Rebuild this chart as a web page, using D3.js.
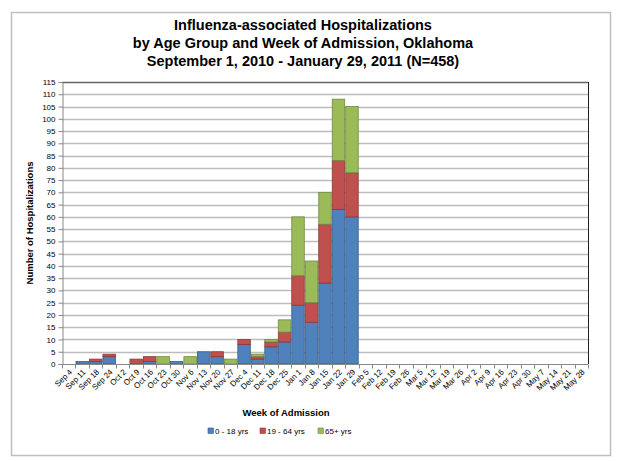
<!DOCTYPE html>
<html>
<head>
<meta charset="utf-8">
<script src="https://cdn.jsdelivr.net/npm/d3@7"></script>
<style>
  body { margin: 0; background: #fff; }
  text { font-family: "Liberation Sans", Arial, sans-serif; }
</style>
</head>
<body>
<div id="container"></div>
<script>
let weeks = ["Sep 4", "Sep 11", "Sep 18", "Sep 24", "Oct 2", "Oct 9", "Oct 16", "Oct 23", "Oct 30",
    "Nov 6", "Nov 13", "Nov 20", "Nov 27", "Dec 4", "Dec 11", "Dec 18", "Dec 25",
    "Jan 1", "Jan 8", "Jan 15", "Jan 22", "Jan 29", "Feb 5", "Feb 12", "Feb 19", "Feb 26",
    "Mar 5", "Mar 12", "Mar 19", "Mar 26", "Apr 2", "Apr 9", "Apr 16", "Apr 23", "Apr 30",
    "May 7", "May 14", "May 21", "May 28"];
let ages0to18 = [0, 1, 1, 3, 0, 0, 1, 0, 1, 0, 5, 3, 0, 8, 2, 7, 9, 24, 17, 33, 63, 60];
let ages19to64 = [0, 0, 1, 1, 0, 2, 2, 0, 0, 0, 0, 2, 0, 2, 1, 2, 4, 12, 8, 24, 20, 18];
let ages65plus = [0, 0, 0, 0, 0, 0, 0, 3, 0, 3, 0, 0, 2, 0, 1, 1, 5, 24, 17, 13, 25, 27];
let seriesNames = ["0 - 18 yrs", "19 - 64 yrs", "65+ yrs"];
let yTicks = d3.range(0, 116, 5);

let colors = ["#4F81BD", "#C0504D", "#9BBB59"];
let strokes = ["#385D8A", "#8C3836", "#71893F"];

let width = 623, height = 461;
let svg = d3.select("#container")
    .append("svg")
    .attr("width", width)
    .attr("height", height);

// outer frame
svg.append("rect")
    .attr("x", 11.5).attr("y", 12.5)
    .attr("width", 599).attr("height", 443)
    .attr("fill", "#fff")
    .attr("stroke", "#bfbfbf")
    .attr("stroke-width", 1.5);

let plot = { left: 62, right: 588, top: 82, bottom: 364 };

let x = d3.scaleBand()
    .domain(weeks)
    .range([plot.left, plot.right])
    .padding(0);
let y = d3.scaleLinear()
    .domain([0, 115])
    .range([plot.bottom, plot.top]);

// gridlines
svg.append("g")
    .selectAll("line")
    .data(yTicks.filter(d => d > 0))
    .enter()
    .append("line")
    .attr("x1", plot.left).attr("x2", plot.right)
    .attr("y1", d => Math.round(y(d)) + 0.5).attr("y2", d => Math.round(y(d)) + 0.5)
    .attr("stroke", d => d === 115 ? "#666" : "#bdbdbd")
    .attr("stroke-width", 1.4);

// right border of plot
svg.append("line")
    .attr("x1", plot.right + 0.5).attr("x2", plot.right + 0.5)
    .attr("y1", plot.top).attr("y2", plot.bottom)
    .attr("stroke", "#222");

// stacked bars
let rows = weeks.map((w, i) => ({
    week: w,
    a: ages0to18[i] || 0,
    b: ages19to64[i] || 0,
    c: ages65plus[i] || 0
}));
let stack = d3.stack().keys(["a", "b", "c"])(rows);

svg.append("g")
    .selectAll("g")
    .data(stack)
    .enter()
    .append("g")
    .attr("fill", (_, i) => colors[i])
    .attr("stroke", (_, i) => strokes[i])
    .selectAll("rect")
    .data(d => d.filter(p => p[1] - p[0] > 0))
    .enter()
    .append("rect")
    .attr("x", d => x(d.data.week) + 0.5)
    .attr("width", x.bandwidth() - 1)
    .attr("y", d => y(d[1]))
    .attr("height", d => y(d[0]) - y(d[1]))
    .attr("stroke-width", 0.8);

// y axis
let yAxis = svg.append("g")
    .attr("transform", "translate(" + (plot.left + 0.5) + ",0)")
    .call(d3.axisLeft(y).tickValues(yTicks).tickSize(4).tickPadding(3));
yAxis.select(".domain").attr("stroke", "#888");
yAxis.selectAll(".tick line").attr("stroke", "#888");
yAxis.selectAll("text")
    .attr("style", "font-size:8px")
    .attr("fill", "#000");

// x axis, ticks at category boundaries
let xAxis = svg.append("g")
    .attr("transform", "translate(0," + (plot.bottom + 0.5) + ")");
xAxis.append("line")
    .attr("x1", plot.left).attr("x2", plot.right)
    .attr("stroke", "#888");
xAxis.selectAll("line.tk")
    .data(weeks.concat(["end"]))
    .enter()
    .append("line")
    .attr("class", "tk")
    .attr("x1", (d, i) => Math.round(plot.left + i * x.step()) + 0.5)
    .attr("x2", (d, i) => Math.round(plot.left + i * x.step()) + 0.5)
    .attr("y1", 0).attr("y2", 4)
    .attr("stroke", "#888");
xAxis.selectAll("text")
    .data(weeks)
    .enter()
    .append("text")
    .attr("transform", d => "translate(" + (x(d) + x.bandwidth() / 2 + 4) + ",8) rotate(-45)")
    .attr("text-anchor", "end")
    .attr("style", "font-size:8px")
    .text(d => d);

// titles
let titleLines = ["Influenza-associated Hospitalizations",
    "by Age Group and Week of Admission, Oklahoma",
    "September 1, 2010 - January 29, 2011 (N=458)"];
svg.append("g")
    .selectAll("text")
    .data(titleLines)
    .enter()
    .append("text")
    .attr("x", 303)
    .attr("y", (_, i) => 30 + i * 18)
    .attr("text-anchor", "middle")
    .attr("style", "font-size:14.5px;font-weight:bold")
    .text(d => d);

svg.append("text")
    .attr("transform", "translate(33," + ((plot.top + plot.bottom) / 2) + ") rotate(-90)")
    .attr("text-anchor", "middle")
    .attr("style", "font-size:9.5px;font-weight:bold")
    .text("Number of Hospitalizations");

svg.append("text")
    .attr("x", 286)
    .attr("y", 416)
    .attr("text-anchor", "middle")
    .attr("style", "font-size:9.5px;font-weight:bold")
    .text("Week of Admission");

// legend
let legendX = [208, 260, 318];
let legend = svg.append("g")
    .selectAll("g")
    .data(seriesNames)
    .enter()
    .append("g")
    .attr("transform", (_, i) => "translate(" + legendX[i] + ",434)");
legend.append("rect")
    .attr("x", 0).attr("y", -6)
    .attr("width", 5.5).attr("height", 5.5)
    .attr("fill", (_, i) => colors[i])
    .attr("stroke", (_, i) => strokes[i])
    .attr("stroke-width", 0.6);
legend.append("text")
    .attr("x", 7)
    .attr("y", 0)
    .attr("style", "font-size:8px")
    .text(d => d);
</script>
</body>
</html>
